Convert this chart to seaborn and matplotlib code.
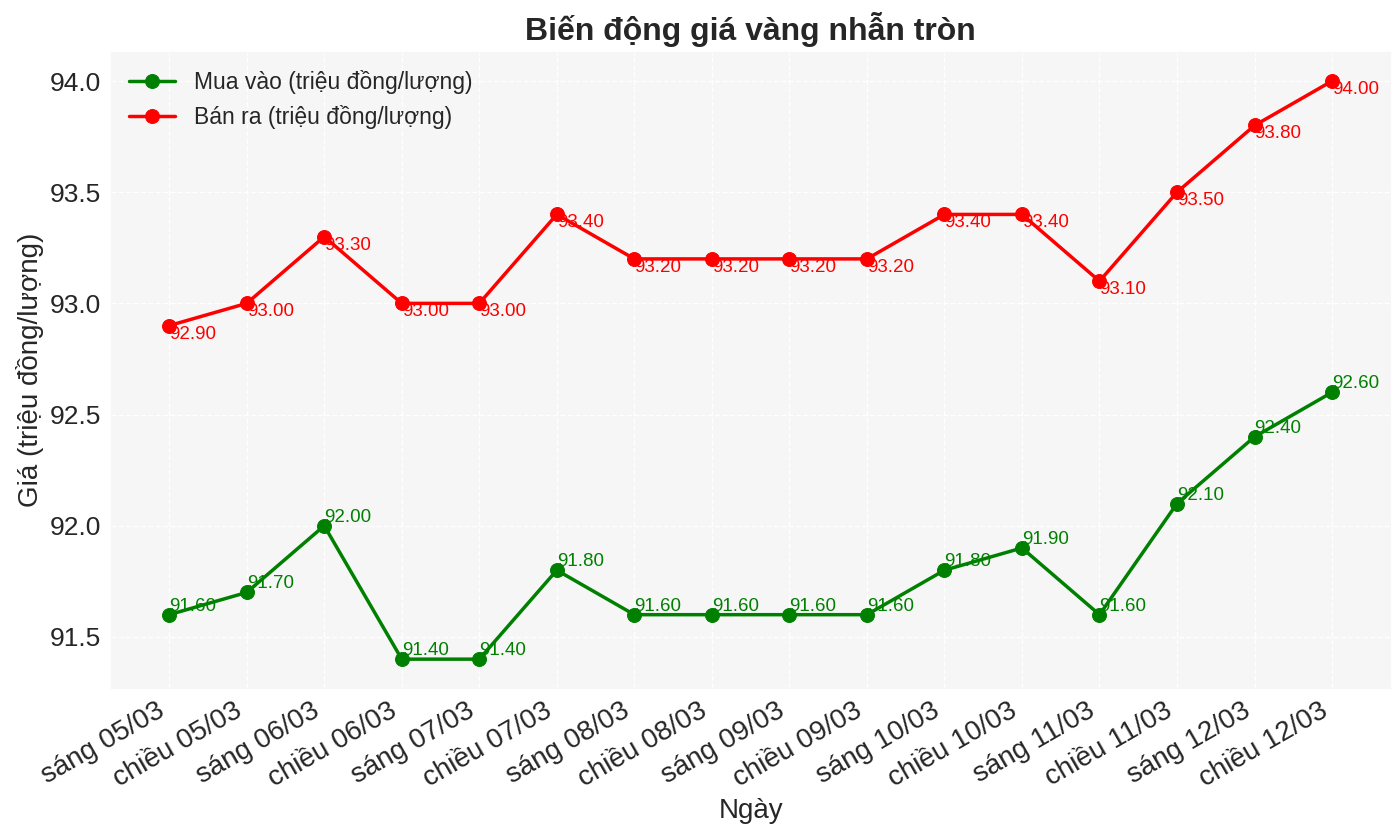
import matplotlib
matplotlib.use("Agg")
import matplotlib.pyplot as plt
import seaborn as sns
import pandas as pd

labels = ["sáng 05/03", "chiều 05/03", "sáng 06/03", "chiều 06/03", "sáng 07/03",
          "chiều 07/03", "sáng 08/03", "chiều 08/03", "sáng 09/03", "chiều 09/03",
          "sáng 10/03", "chiều 10/03", "sáng 11/03", "chiều 11/03", "sáng 12/03",
          "chiều 12/03"]
mua_vao = [91.6, 91.7, 92.0, 91.4, 91.4, 91.8, 91.6, 91.6, 91.6, 91.6,
           91.8, 91.9, 91.6, 92.1, 92.4, 92.6]
ban_ra = [92.9, 93.0, 93.3, 93.0, 93.0, 93.4, 93.2, 93.2, 93.2, 93.2,
          93.4, 93.4, 93.1, 93.5, 93.8, 94.0]

sns.set_style("whitegrid", {"axes.facecolor": "#f6f6f6", "grid.color": "#ffffff",
                            "grid.linestyle": "--", "axes.edgecolor": "#f6f6f6"})
plt.rcParams["font.family"] = ["Liberation Sans", "DejaVu Sans"]

df = pd.DataFrame({"Ngày": labels, "mua": mua_vao, "ban": ban_ra})

fig, ax = plt.subplots(figsize=(13.93, 8.27), dpi=100)
fig.subplots_adjust(left=0.0797, right=0.998, top=0.937, bottom=0.168)

sns.lineplot(data=df, x="Ngày", y="mua", ax=ax, color="green", marker="o",
             linewidth=2.5, markersize=10, markeredgecolor="green",
             label="Mua vào (triệu đồng/lượng)", sort=False)
sns.lineplot(data=df, x="Ngày", y="ban", ax=ax, color="red", marker="o",
             linewidth=2.5, markersize=10, markeredgecolor="red",
             label="Bán ra (triệu đồng/lượng)", sort=False)

for i, v in enumerate(mua_vao):
    ax.text(i, v, f"{v:.2f}", color="green", fontsize=13.5, ha="left", va="bottom")
for i, v in enumerate(ban_ra):
    ax.text(i, v, f"{v:.2f}", color="red", fontsize=13.5, ha="left", va="top")

ax.set_title("Biến động giá vàng nhẫn tròn", fontsize=23, fontweight="bold",
             color="#262626", pad=9)
ax.set_xlabel("Ngày", fontsize=20, color="#262626")
ax.set_ylabel("Giá (triệu đồng/lượng)", fontsize=20, color="#262626")
ax.tick_params(axis="y", labelsize=19, colors="#262626")
ax.tick_params(axis="x", labelsize=20, colors="#262626")
plt.setp(ax.get_xticklabels(), rotation=30, ha="right")
ax.grid(True, linestyle="--", color="#ffffff", linewidth=1)
leg = ax.legend(loc="upper left", fontsize=16.5, frameon=False, labelspacing=0.45,
                borderaxespad=0.4)
for t in leg.get_texts():
    t.set_color("#262626")

fig.savefig("out.png", dpi=100)
